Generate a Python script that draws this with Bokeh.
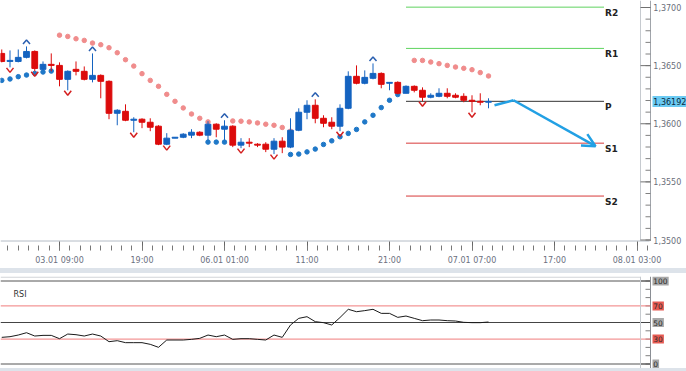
import numpy as np
from bokeh.plotting import figure
from bokeh.layouts import column
from bokeh.models import Range1d, FixedTicker, Span, Label, Arrow, OpenHead, Div, ColumnDataSource
from bokeh.core.properties import value
from bokeh.embed import file_html
from bokeh.resources import INLINE

# ---------------- data ----------------
# hourly bars, index 0 = 03.01 09:00 (weekend skipped)
bar_index = list(range(-7, 53))
opens = [1.36605, 1.36536, 1.36536, 1.36571, 1.36622, 1.36468, 1.36511,
         1.36502, 1.36382, 1.36468, 1.36451, 1.36382, 1.36416, 1.36365, 1.36090, 1.36107,
         1.36030, 1.36039, 1.36013, 1.35979, 1.35824, 1.35876, 1.35884, 1.35902, 1.35927,
         1.35902, 1.35996, 1.35953, 1.35979, 1.35816, 1.35841, 1.35824, 1.35824, 1.35781,
         1.35850, 1.35799, 1.35944, 1.36099, 1.36159, 1.36047, 1.36013, 1.35979, 1.36133,
         1.36408, 1.36348, 1.36391, 1.36433, 1.36348, 1.36356, 1.36262, 1.36322, 1.36288,
         1.36228, 1.36236, 1.36262, 1.36245, 1.36236, 1.36202, 1.36193, 1.36185]
highs = [1.36639, 1.36631, 1.36639, 1.36665, 1.36631, 1.36536, 1.36605,
         1.36528, 1.36459, 1.36536, 1.36493, 1.36605, 1.36425, 1.36373, 1.36125, 1.36167,
         1.36056, 1.36047, 1.36047, 1.35987, 1.35919, 1.35884, 1.35919, 1.35953, 1.35936,
         1.36022, 1.36004, 1.36030, 1.35987, 1.35876, 1.35876, 1.35833, 1.35841, 1.35876,
         1.35884, 1.36047, 1.36133, 1.36202, 1.36210, 1.36073, 1.36056, 1.36167, 1.36451,
         1.36502, 1.36459, 1.36519, 1.36442, 1.36356, 1.36365, 1.36330, 1.36330, 1.36313,
         1.36262, 1.36305, 1.36305, 1.36262, 1.36262, 1.36245, 1.36262, 1.36219]
lows = [1.36528, 1.36485, 1.36528, 1.36562, 1.36451, 1.36459, 1.36451,
        1.36322, 1.36288, 1.36416, 1.36373, 1.36356, 1.36219, 1.36039, 1.35987, 1.36022,
        1.35927, 1.35962, 1.35936, 1.35816, 1.35816, 1.35876, 1.35876, 1.35876, 1.35893,
        1.35859, 1.35884, 1.35859, 1.35799, 1.35790, 1.35799, 1.35799, 1.35756, 1.35739,
        1.35747, 1.35790, 1.35936, 1.36039, 1.36004, 1.35970, 1.35953, 1.35936, 1.36125,
        1.36339, 1.36339, 1.36382, 1.36305, 1.36288, 1.36253, 1.36262, 1.36270, 1.36193,
        1.36219, 1.36228, 1.36219, 1.36219, 1.36185, 1.36099, 1.36159, 1.36133]
closes = [1.36536, 1.36545, 1.36571, 1.36622, 1.36476, 1.36511, 1.36502,
          1.36382, 1.36451, 1.36451, 1.36382, 1.36416, 1.36365, 1.36090, 1.36116, 1.36030,
          1.36039, 1.36013, 1.35970, 1.35824, 1.35876, 1.35884, 1.35910, 1.35927, 1.35902,
          1.35996, 1.35953, 1.35979, 1.35816, 1.35841, 1.35833, 1.35816, 1.35781, 1.35850,
          1.35799, 1.35944, 1.36099, 1.36159, 1.36047, 1.36004, 1.35979, 1.36133, 1.36408,
          1.36348, 1.36399, 1.36433, 1.36339, 1.36356, 1.36262, 1.36322, 1.36288, 1.36228,
          1.36245, 1.36262, 1.36236, 1.36228, 1.36202, 1.36193, 1.36185, 1.36192]

# parabolic SAR
sar_red_idx = list(range(0, 19)) + list(range(21, 29)) + list(range(43, 53))
sar_red = [1.36762, 1.36751, 1.36731, 1.36717, 1.36694, 1.36680, 1.36654, 1.36611,
           1.36551, 1.36496, 1.36431, 1.36373, 1.36322, 1.36253, 1.36193, 1.36136,
           1.36084, 1.36047, 1.36016,
           1.36024, 1.36022, 1.36016, 1.36007, 1.35996, 1.35987, 1.35968, 1.35936,
           1.36545, 1.36545, 1.36531, 1.36517, 1.36502, 1.36488, 1.36477, 1.36465,
           1.36440, 1.36411]
sar_blue_idx = list(range(-7, 0)) + [18, 19, 20] + list(range(28, 42))
sar_blue = [1.36373, 1.36385, 1.36405, 1.36419, 1.36433, 1.36445, 1.36453,
            1.35842, 1.35842, 1.35842,
            1.35736, 1.35739, 1.35758, 1.35782, 1.35822, 1.35853, 1.35888, 1.35917,
            1.35951, 1.36016, 1.36073, 1.36139, 1.36202, 1.36251]

# fractals
fractal_up = [-4, 4, 20, 31, 38]
fractal_down = [-6, -3, 1, 9, 13, 22, 26, 34, 44, 50]

# pivot levels
pivot_names = ["R2", "R1", "P", "S1", "S2"]
pivot_levels = [1.37003, 1.36648, 1.36193, 1.35833, 1.35378]
pivot_from, pivot_to = 42, 66

# forecast arrow path
forecast_x = [52.73, 55.03, 64.97]
forecast_y = [1.36159, 1.36202, 1.35807]

current_price = 1.36192

# RSI
rsi_values = [32.1, 32.9, 34.9, 37.7, 33.7, 34.5, 34.5,
              30.5, 36.1, 35.3, 33.7, 36.1, 33.7, 26.9, 28.1, 25.7, 25.7,
              25.7, 23.7, 20.1, 28.9, 28.9, 28.9, 29.7, 30.9, 34.9, 32.9,
              34.9, 29.7, 30.5, 30.5, 29.7, 28.9, 34.9, 32.1, 47.0, 55.0,
              57.0, 51.0, 49.8, 47.0, 56.0, 65.9, 63.0, 64.3, 65.9, 61.0,
              61.0, 56.2, 57.8, 55.0, 52.2, 53.0, 53.0, 52.2, 51.8, 50.2,
              49.8, 49.8, 50.6]
rsi_levels = [100, 70, 50, 30, 0]
rsi_level_labels = ["100", "70", "50", "30", "0"]

# axes
time_ticks = [0, 10, 20, 30, 40, 50, 60, 70]
time_labels = ["03.01 09:00", "19:00", "06.01 01:00", "11:00", "21:00",
               "07.01 07:00", "17:00", "08.01 03:00"]
price_ticks = [1.35, 1.355, 1.36, 1.365, 1.37]
price_tick_labels = ["1,3500", "1,3550", "1,3600", "1,3650", "1,3700"]

# ---------------- style / layout ----------------
RED = "#dc0b0b"
BLUE = "#1463c0"
SAR_RED = "#f08c8c"
SAR_BLUE = "#1f78c8"
ARROW = "#22a0e4"
W = 686
BAR_PX = 8.25                      # pixels per bar
PRICE_PX = 11625.0                 # pixels per price unit
x_lo = -59 / BAR_PX
x_hi = x_lo + W / BAR_PX
MAIN_FRAME_H = 250
y_hi = 1.37 + 7 / PRICE_PX
y_lo = y_hi - MAIN_FRAME_H / PRICE_PX
y_base = y_hi - 240.5 / PRICE_PX   # bottom line of the price pane
px_x = 1.0 / BAR_PX
px_y = 1.0 / PRICE_PX


def sx(px):
    """data x for a pixel column"""
    return x_lo + px / BAR_PX


x_border, x_minor, x_axis, x_lab = sx(640), sx(645), sx(650), sx(652.8)
FONT = value("DejaVu Sans")

p = figure(width=W, height=268, x_range=Range1d(x_lo, x_hi), y_range=Range1d(y_lo, y_hi),
           y_axis_location=None, output_backend="svg", toolbar_location=None,
           min_border_left=0, min_border_right=0, min_border_top=0, min_border_bottom=18,
           outline_line_color=None, background_fill_color="white", border_fill_color="white")
p.grid.visible = False

xa = p.xaxis[0]
xa.ticker = FixedTicker(ticks=time_ticks, minor_ticks=list(np.arange(-7.5, 71.3, 1.25)))
xa.major_label_overrides = dict(zip(time_ticks, time_labels))
xa.axis_line_color = None
xa.major_tick_line_color = "#666666"
xa.minor_tick_line_color = "#777777"
xa.major_tick_in = 9
xa.major_tick_out = 0
xa.minor_tick_in = 5
xa.minor_tick_out = 0
xa.major_label_standoff = 5
xa.major_label_text_font = "DejaVu Sans"
xa.major_label_text_font_size = "8px"
xa.major_label_text_color = "#6b6f80"

# pane bottom line and right price scale
p.segment(x0=[x_lo], y0=[y_base], x1=[sx(649)], y1=[y_base],
          line_color="#b4bcc6", line_width=1)
p.segment(x0=[x_border, x_axis], y0=[y_base, y_base], x1=[x_border, x_axis], y1=[y_hi, y_hi],
          line_color=["#c6cacf", "#a0a4aa"], line_width=1)
minor_price = list(np.round(np.arange(1.350, 1.3705, 0.001), 4))
p.segment(x0=[x_minor] * len(minor_price), y0=minor_price, x1=[x_axis] * len(minor_price),
          y1=minor_price, line_color="#808080", line_width=1)
p.segment(x0=[x_border] * len(price_ticks), y0=price_ticks, x1=[x_axis] * len(price_ticks),
          y1=price_ticks, line_color="#707070", line_width=1)
p.text(x=[x_lab] * len(price_ticks), y=price_ticks, text=price_tick_labels, text_font=FONT,
       text_font_size="8px", text_color="#6a6e7a", text_baseline="middle", text_align="left")

# pivots
pivot_colors = ["#5fd35f", "#5fd35f", "#333333", "#d83a3a", "#d83a3a"]
p.segment(x0=[pivot_from] * 5, y0=pivot_levels, x1=[pivot_to] * 5, y1=pivot_levels,
          line_color=pivot_colors, line_width=1)
p.text(x=[pivot_to] * 5, y=pivot_levels, text=pivot_names, text_font=FONT,
       text_font_style="bold", text_font_size="9px", text_color="#222222",
       text_baseline="top", text_align="left", x_offset=1, y_offset=1)

# SAR
p.scatter(sar_red_idx, sar_red, size=4.5, color=SAR_RED)
p.scatter(sar_blue_idx, sar_blue, size=4.5, color=SAR_BLUE)

# candles
colors = [BLUE if c >= o else RED for o, c in zip(opens, closes)]
src = ColumnDataSource(dict(x=bar_index, h=highs, l=lows,
                            top=[max(o, c) for o, c in zip(opens, closes)],
                            bottom=[min(o, c) for o, c in zip(opens, closes)],
                            color=colors))
p.segment(x0="x", y0="h", x1="x", y1="l", line_color="color", line_width=1, source=src)
p.vbar(x="x", width=0.7, top="top", bottom="bottom", fill_color="color",
       line_color="color", line_width=1, source=src)

# fractal markers
up_xs, up_ys, dn_xs, dn_ys = [], [], [], []
for i in fractal_up:
    h = highs[bar_index.index(i)]
    up_xs.append([i - 3.5 * px_x, i, i + 3.5 * px_x])
    up_ys.append([h + 2.5 * px_y, h + 6.5 * px_y, h + 2.5 * px_y])
for i in fractal_down:
    lo = lows[bar_index.index(i)]
    dn_xs.append([i - 3.5 * px_x, i, i + 3.5 * px_x])
    dn_ys.append([lo - 0.5 * px_y, lo - 5 * px_y, lo - 0.5 * px_y])
p.multi_line(up_xs, up_ys, line_color="#2a5fb0", line_width=1.5)
p.multi_line(dn_xs, dn_ys, line_color="#d42020", line_width=1.5)

# forecast arrow
p.line(forecast_x[:2], forecast_y[:2], line_color=ARROW, line_width=2.5)
p.add_layout(Arrow(end=OpenHead(size=13, line_color=ARROW, line_width=2.5),
                   x_start=forecast_x[1], y_start=forecast_y[1],
                   x_end=forecast_x[2], y_end=forecast_y[2],
                   line_color=ARROW, line_width=2.5))

# current price tag
p.rect(x=[sx(669)], y=[current_price], width=34, height=11, width_units="screen",
       height_units="screen", fill_color="#6ccbf3", line_color=None)
p.text(x=[x_lab], y=[current_price], text=[f"{current_price:.5f}".replace(".", ",")],
       text_font=FONT, text_font_size="8px", text_color="#0a2a40",
       text_baseline="middle", text_align="left")

# ---------------- RSI ----------------
band = Div(text="", width=W, height=5, margin=0, styles={"background-color": "#dde3ea"})
band2 = Div(text="", width=W, height=3, margin=0, styles={"background-color": "#dde3ea"})

RSI_PX = 0.83
RSI_FRAME_H = 92
r_hi = 100 + 4.5 / RSI_PX
r_lo = r_hi - RSI_FRAME_H / RSI_PX
r = figure(width=W, height=95, x_range=p.x_range, y_range=Range1d(r_lo, r_hi),
           x_axis_location=None, y_axis_location=None, output_backend="svg",
           toolbar_location=None, min_border_left=0, min_border_right=0,
           min_border_top=3, min_border_bottom=0, outline_line_color=None,
           background_fill_color="white", border_fill_color="white")
r.grid.visible = False

r.segment(x0=[x_lo], y0=[r_hi - 0.6 / RSI_PX], x1=[x_border], y1=[r_hi - 0.6 / RSI_PX],
          line_color="#c6cacf", line_width=1)
r.add_layout(Span(location=x_border, dimension="height", line_color="#c6cacf", line_width=1))
r.add_layout(Span(location=x_axis, dimension="height", line_color="#8a8e94", line_width=1))
rsi_minor = list(range(0, 101, 10))
r.segment(x0=[x_minor] * len(rsi_minor), y0=rsi_minor, x1=[x_axis] * len(rsi_minor),
          y1=rsi_minor, line_color="#808080", line_width=1)
r.segment(x0=[x_border] * 3, y0=[0, 50, 100], x1=[x_axis] * 3, y1=[0, 50, 100],
          line_color="#707070", line_width=1)

level_colors = ["#555555", "#f07c7c", "#444444", "#f07c7c", "#555555"]
box_colors = ["#a8a8a8", "#e65a52", "#a8a8a8", "#e65a52", "#a8a8a8"]
box_w = [len(t) * 4.8 + 1.8 for t in rsi_level_labels]
r.segment(x0=[x_lo] * 5, y0=rsi_levels, x1=[x_axis] * 5, y1=rsi_levels,
          line_color=level_colors, line_width=1)
r.rect(x=[sx(652 + w / 2) for w in box_w], y=rsi_levels, width=box_w, height=9,
       width_units="screen", height_units="screen", fill_color=box_colors, line_color=None)
r.text(x=[sx(652.8)] * 5, y=rsi_levels, text=rsi_level_labels, text_font=FONT,
       text_font_size="7.5px", text_color="#2a2a2a", text_baseline="middle",
       text_align="left")

r.line(bar_index, rsi_values, line_color="#1a1a1a", line_width=1)
r.add_layout(Label(x=sx(13), y=r_hi - 18 / RSI_PX, text="RSI", text_font="DejaVu Sans",
                   text_font_size="8px", text_color="#333333", text_baseline="middle"))

layout = column(p, band, r, band2, spacing=0)
open("out.html", "w").write(file_html(layout, INLINE))
